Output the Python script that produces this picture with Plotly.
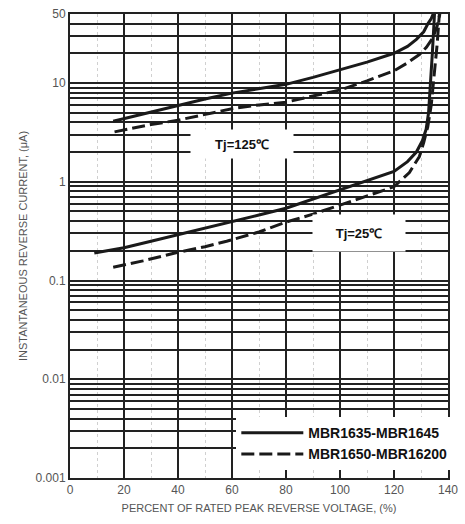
import plotly.graph_objects as go

# ---- data ----
solid125_x = [16, 30, 40, 50, 60, 70, 80, 90, 100, 110, 120, 125, 128.3, 131, 132.6, 133.8, 134.5]
solid125_y = [4.1, 5.1, 5.9, 6.9, 7.9, 8.8, 9.7, 11.4, 13.6, 16.3, 20, 23.5, 27.7, 33, 40, 45, 50]

dashed125_x = [16.5, 30, 40, 50, 60, 70, 80, 90, 100, 110, 120, 125, 129.4, 132, 134.5, 136, 137]
dashed125_y = [3.2, 3.8, 4.2, 4.8, 5.5, 6.0, 6.4, 7.4, 8.5, 10.5, 13.3, 16, 19.4, 23, 29, 38, 50]

solid25_x = [9, 20, 30, 40, 50, 60, 70, 80, 90, 100, 110, 120, 125, 128.3, 130.5, 131.9, 132.8, 133.5, 134.2, 135]
solid25_y = [0.19, 0.215, 0.25, 0.29, 0.34, 0.39, 0.46, 0.54, 0.67, 0.84, 1.03, 1.27, 1.6, 2.0, 2.6, 3.4, 5, 9, 20, 50]

dashed25_x = [16, 27, 40, 50, 58, 70, 80, 90, 100, 110, 120, 125.7, 129.4, 131, 132.5, 133.8, 135, 136, 136.8]
dashed25_y = [0.136, 0.158, 0.193, 0.22, 0.25, 0.31, 0.39, 0.47, 0.58, 0.72, 0.89, 1.24, 1.8, 2.5, 3.6, 6, 12, 25, 50]

x_ticks = [0, 20, 40, 60, 80, 100, 120, 140]
y_labels = {0.001: "0.001", 0.01: "0.01", 0.1: "0.1", 1: "1", 10: "10", 50: "50"}

series_names = ["MBR1635-MBR1645", "MBR1650-MBR16200"]
temp_labels = ["Tj=125℃", "Tj=25℃"]

# ---- grid positions for the log axis (1..9 per decade) ----
y_grid = []
for e in range(-3, 2):
    for m in range(1, 10):
        v = round(m * 10 ** e, 6)
        if v <= 50:
            y_grid.append(v)
y_text = [y_labels.get(v, "") for v in y_grid]

LINE = "#1a1a1a"
DASH = "13px,5px"
fig = go.Figure()

fig.add_trace(go.Scatter(x=solid125_x, y=solid125_y, mode="lines",
                         line=dict(color=LINE, width=3), name=series_names[0]))
fig.add_trace(go.Scatter(x=dashed125_x, y=dashed125_y, mode="lines",
                         line=dict(color=LINE, width=3, dash=DASH), name=series_names[1]))
fig.add_trace(go.Scatter(x=solid25_x, y=solid25_y, mode="lines",
                         line=dict(color=LINE, width=3), showlegend=False))
fig.add_trace(go.Scatter(x=dashed25_x, y=dashed25_y, mode="lines",
                         line=dict(color=LINE, width=3, dash=DASH), showlegend=False))

tick_font = dict(family="Liberation Sans Narrow, Arial Narrow, Liberation Sans, Arial", size=12, color="#555")
title_font = dict(family="Liberation Sans Narrow, Arial Narrow, Liberation Sans, Arial", size=11, color="#555")

fig.update_xaxes(range=[0, 140], tickvals=x_ticks, ticktext=[str(v) for v in x_ticks],
                 showgrid=True, gridcolor="#222", gridwidth=2,
                 minor=dict(dtick=10, showgrid=True, gridcolor="#d0d0d0", griddash="dot", gridwidth=1),
                 showline=True, linecolor="#222", linewidth=2, mirror=True,
                 ticks="", tickfont=tick_font, zeroline=False,
                 title=dict(text="PERCENT OF RATED PEAK REVERSE VOLTAGE, (%)", font=title_font, standoff=8))
fig.update_yaxes(type="log", range=[-3, 1.69897], tickvals=y_grid, ticktext=y_text,
                 showgrid=True, gridcolor="#222", gridwidth=2,
                 showline=True, linecolor="#222", linewidth=2, mirror=True,
                 ticks="", tickfont=tick_font, zeroline=False,
                 title=dict(text="INSTANTANEOUS REVERSE CURRENT, (μA)", font=title_font, standoff=6))

ann_font = dict(family="Liberation Sans, Arial", size=13, color="#111", weight="bold")
fig.add_annotation(xref="paper", yref="paper", x=0.455, y=0.72, text=temp_labels[0],
                   xanchor="center", yanchor="middle",
                   showarrow=False, bgcolor="white", width=100, height=26, font=ann_font)
fig.add_annotation(xref="paper", yref="paper", x=0.764, y=0.529, text=temp_labels[1],
                   xanchor="center", yanchor="middle",
                   showarrow=False, bgcolor="white", width=90, height=34, font=ann_font)

fig.update_layout(
    width=465, height=524,
    margin=dict(l=70, r=13, t=7, b=46),
    paper_bgcolor="white", plot_bgcolor="white",
    legend=dict(x=0.44, y=0.017, xanchor="left", yanchor="bottom", bgcolor="white",
                itemwidth=62,
                font=dict(family="Liberation Sans, Arial", size=14, color="#111", weight="bold"),
                tracegroupgap=0, borderwidth=0),
)

fig.write_html("out.html", config={"displayModeBar": False},
               post_script="document.body.style.margin='0';document.body.style.padding='0';")
